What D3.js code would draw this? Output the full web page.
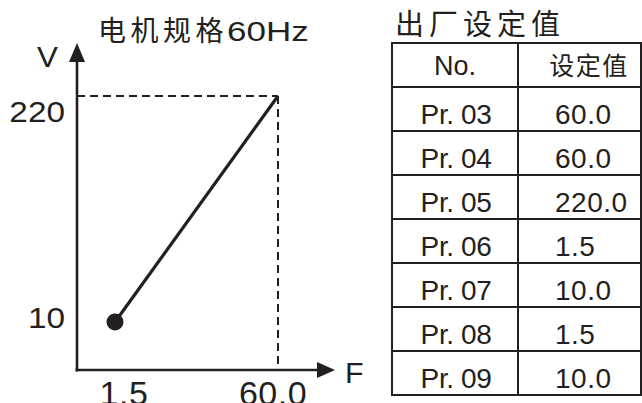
<!DOCTYPE html>
<html>
<head>
<meta charset="utf-8">
<script src="https://cdn.jsdelivr.net/npm/d3@7.9.0/dist/d3.min.js"></script>
<style>
  html, body { margin: 0; padding: 0; background: #fff; }
  svg { display: block; }
  text { fill: #231f20; font-family: "Liberation Sans", Arial, "Noto Sans CJK SC", sans-serif; }
  .cjk { font-family: "Noto Sans CJK SC", sans-serif; }
</style>
</head>
<body>
<svg id="chart" width="642" height="403"></svg>
<script>
/* ──── data ──── */
const chartTitleCn = '电机规格';
const chartTitleHz = '60Hz';
const tableTitle = '出厂设定值';
const freqPoints = [1.5, 60.0];          // F (Hz)
const voltPoints = [10, 220];            // V
const xTickLabels = ['1.5', '60.0'];
const yTickLabels = ['10', '220'];
const headers  = ['No.', '设定值'];
const params   = ['Pr. 03', 'Pr. 04', 'Pr. 05', 'Pr. 06', 'Pr. 07', 'Pr. 08', 'Pr. 09'];
const settings = ['60.0', '60.0', '220.0', '1.5', '10.0', '1.5', '10.0'];

const ink = '#231f20';
const svg = d3.select('#chart');

/* wide-looking label: text stretched horizontally about its anchor */
function wideText (sel, px, py, sx) {
  return sel.append('text')
            .attr('transform', `translate(${px},${py}) scale(${sx},1)`);
}

/* ──── V/F graph ──── */
const origin = { x: 77, y: 370 };
const x = d3.scaleLinear().domain(d3.extent(freqPoints)).range([115, 278]);
const y = d3.scaleLinear().domain(d3.extent(voltPoints)).range([322, 96]);
const pts = freqPoints.map((f, i) => [f, voltPoints[i]]);
const corner = pts[pts.length - 1];

svg.append('text').attr('class', 'cjk')
   .attr('x', 98).attr('y', 41)
   .attr('font-size', 28).attr('letter-spacing', 4.5)
   .text(chartTitleCn);
wideText(svg, 227, 41, 1.25).attr('font-size', 28).text(chartTitleHz);

// dashed guides to the 60Hz / 220V corner
const g = svg.append('g').attr('stroke', ink).attr('stroke-width', 2)
             .attr('stroke-dasharray', '8,5').attr('fill', 'none');
g.append('line')
 .attr('x1', origin.x).attr('y1', y(corner[1]))
 .attr('x2', x(corner[0])).attr('y2', y(corner[1]));
g.append('line')
 .attr('x1', x(corner[0])).attr('y1', y(corner[1]))
 .attr('x2', x(corner[0])).attr('y2', origin.y - 6);

// axes with arrows
svg.append('line')
   .attr('x1', origin.x).attr('y1', origin.y + 1.5)
   .attr('x2', origin.x).attr('y2', 60)
   .attr('stroke', ink).attr('stroke-width', 2.6);
svg.append('line')
   .attr('x1', origin.x - 1.5).attr('y1', origin.y)
   .attr('x2', 320).attr('y2', origin.y)
   .attr('stroke', ink).attr('stroke-width', 2.6);
svg.append('path')
   .attr('d', `M${origin.x},43 L${origin.x - 8},62 L${origin.x + 8},62 Z`)
   .attr('fill', ink);
svg.append('path')
   .attr('d', `M335,${origin.y} L317,${origin.y - 8} L317,${origin.y + 8} Z`)
   .attr('fill', ink);

wideText(svg, 37, 67, 1.08).attr('font-size', 29).text('V');
wideText(svg, 345, 383, 1.05).attr('font-size', 29).text('F');

// V/F line + start dot
svg.append('path')
   .datum(pts)
   .attr('d', d3.line().x(d => x(d[0])).y(d => y(d[1])))
   .attr('fill', 'none').attr('stroke', ink).attr('stroke-width', 3.2);
svg.append('circle')
   .attr('cx', x(pts[0][0])).attr('cy', y(pts[0][1])).attr('r', 8.5)
   .attr('fill', ink);

// tick labels (x labels run off the bottom edge, as in the source)
const yOff = [6, 26];
yTickLabels.forEach((d, i) => {
  wideText(svg, 65, y(voltPoints[i]) + yOff[i], 1.15)
    .attr('text-anchor', 'end').attr('font-size', 29).text(d);
});
const xOff = [9, -5];
xTickLabels.forEach((d, i) => {
  svg.append('text')
     .attr('x', x(freqPoints[i]) + xOff[i]).attr('y', 405)
     .attr('text-anchor', 'middle').attr('font-size', 34).attr('letter-spacing', 0.5)
     .text(d);
});

/* ──── factory settings table ──── */
const rowY = d3.scaleLinear().domain([0, params.length + 1]).range([43, 395]);
const colX = [392, 518, 641];

svg.append('text').attr('class', 'cjk')
   .attr('x', 395).attr('y', 35)
   .attr('font-size', 29).attr('letter-spacing', 5)
   .text(tableTitle);

const tg = svg.append('g').attr('stroke', ink).attr('stroke-width', 2);
tg.selectAll('line.h')
  .data(d3.range(params.length + 2))
  .join('line').attr('class', 'h')
  .attr('x1', colX[0] - 1).attr('x2', colX[2] + 1)
  .attr('y1', d => rowY(d)).attr('y2', d => rowY(d));
tg.selectAll('line.v')
  .data(colX)
  .join('line').attr('class', 'v')
  .attr('x1', d => d).attr('x2', d => d)
  .attr('y1', rowY(0)).attr('y2', rowY(params.length + 1));

// header
svg.append('text')
   .attr('x', (colX[0] + colX[1]) / 2).attr('y', rowY(0) + 32)
   .attr('text-anchor', 'middle').attr('font-size', 27)
   .text(headers[0]);
svg.append('text').attr('class', 'cjk')
   .attr('x', 589).attr('y', rowY(0) + 32)
   .attr('text-anchor', 'middle').attr('font-size', 25).attr('letter-spacing', 1.5)
   .text(headers[1]);

// rows
svg.selectAll('text.par')
   .data(params)
   .join('text').attr('class', 'par')
   .attr('x', (colX[0] + colX[1]) / 2 + 1).attr('y', (d, i) => rowY(i + 1) + 37)
   .attr('text-anchor', 'middle').attr('font-size', 28).attr('letter-spacing', -0.4)
   .text(d => d);
svg.selectAll('text.val')
   .data(settings)
   .join('text').attr('class', 'val')
   .attr('x', 555).attr('y', (d, i) => rowY(i + 1) + 37)
   .attr('font-size', 28).attr('letter-spacing', 0.5)
   .text(d => d);
</script>
</body>
</html>
